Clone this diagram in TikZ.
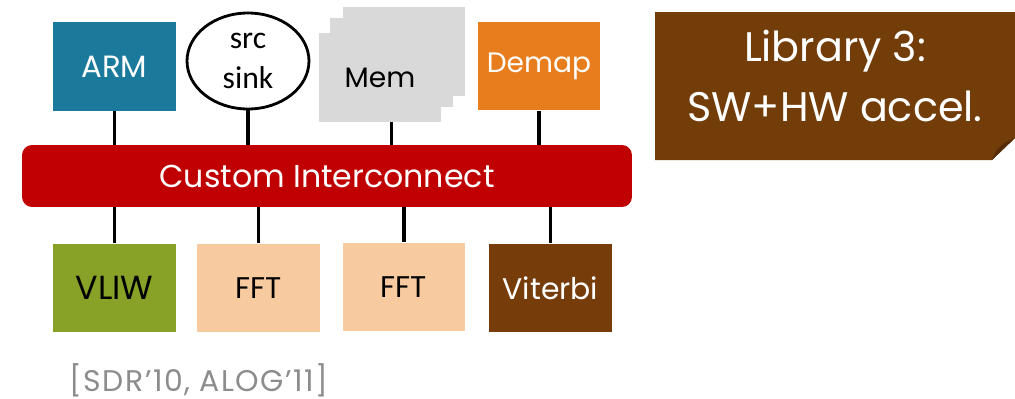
\documentclass[tikz,border=0pt]{standalone}
\usepackage{fontspec}
\setmainfont{Poppins}
\newfontfamily\ioFont{Carlito}
\usepackage{tikz}
\usetikzlibrary{shapes.geometric}

\definecolor{ArmBlue}{HTML}{1B7A9B}
\definecolor{DemapOrange}{HTML}{E87D1E}
\definecolor{BusRed}{HTML}{C00000}
\definecolor{VliwGreen}{HTML}{88A127}
\definecolor{FftPeach}{HTML}{F7CAA0}
\definecolor{ViterbiBrown}{HTML}{763D0B}
\definecolor{LibBrown}{HTML}{733D0A}
\definecolor{FoldBrown}{HTML}{552C06}
\definecolor{MemGray}{HTML}{D9D9D9}
\definecolor{CiteGray}{HTML}{8C8C8C}

\tikzset{
    block/.style={rectangle, inner sep=0pt, minimum width=2.46cm, minimum height=1.78cm,
        font=\fontsize{17}{20}\selectfont},
    link/.style={line width=1.8pt}
}

\begin{document}
\begin{tikzpicture}[x=0.02cm, y=-0.02cm]
        \useasboundingbox (0, 0) rectangle (1015, 399);

        % top row
        \node[block, fill=ArmBlue, text=white, font=\fontsize{17.5}{20}\selectfont] (arm) at (114.5, 66.5) {ARM};
        \node[draw, ellipse, line width=1.6pt, inner sep=0pt, minimum width=2.44cm, minimum height=1.92cm,
            align=center, font=\ioFont\fontsize{18}{23}\selectfont] (io) at (248, 61) {src\\sink};
        \node[block, fill=MemGray] (mem3) at (404, 51.5) {};
        \node[block, fill=MemGray] (mem2) at (391.5, 62.5) {};
        \node[block, fill=MemGray, font=\fontsize{16}{18}\selectfont] (mem) at (380, 77.5) {Mem};
        \node[block, fill=DemapOrange, text=white, font=\fontsize{16}{18}\selectfont] (demap) at (539, 66) {Demap};

        \node[rectangle, rounded corners=0.2cm, fill=BusRed, text=white, minimum width=12.2cm,
            minimum height=1.24cm, font=\fontsize{18}{20}\selectfont] (bus) at (327, 176) {Custom Interconnect};

        % bottom row
        \node[block, fill=VliwGreen, font=\fontsize{19}{20}\selectfont] (vliw) at (114.5, 288) {VLIW};
        \node[block, fill=FftPeach] (ffta) at (258.5, 288) {FFT};
        \node[block, fill=FftPeach] (fftb) at (404, 287) {FFT};
        \node[block, fill=ViterbiBrown, text=white] (viterbi) at (550.5, 288) {Viterbi};

        \foreach \n in {arm, io, demap} {
            \draw[link] (\n.south) -- (\n.south |- bus.north);
        }
        \draw[link] (mem2 |- mem.south) -- (mem2 |- bus.north);

        \foreach \n in {vliw, ffta, fftb, viterbi} {
            \draw[link] (bus.south -| \n.north) -- (\n.north);
        }

        \node[text=CiteGray, inner sep=0pt, font=\fontsize{17}{20}\selectfont\addfontfeatures{LetterSpace=5}] (cite)
            at (199, 380) {[SDR'10, ALOG'11]};

        % library tag with folded corner
        \fill[LibBrown] (655, 12) -- (1015, 12) -- (1015, 138) -- (992, 160) -- (655, 160) -- cycle;
        \fill[FoldBrown] (992, 160) .. controls (995, 150) and (1001, 143) .. (1015, 138) -- cycle;
        \node[text=white, align=center, font=\fontsize{23.5}{34}\selectfont] (lib) at (835, 76) {Library 3:\\SW+HW accel.};

    \end{tikzpicture}
\end{document}
